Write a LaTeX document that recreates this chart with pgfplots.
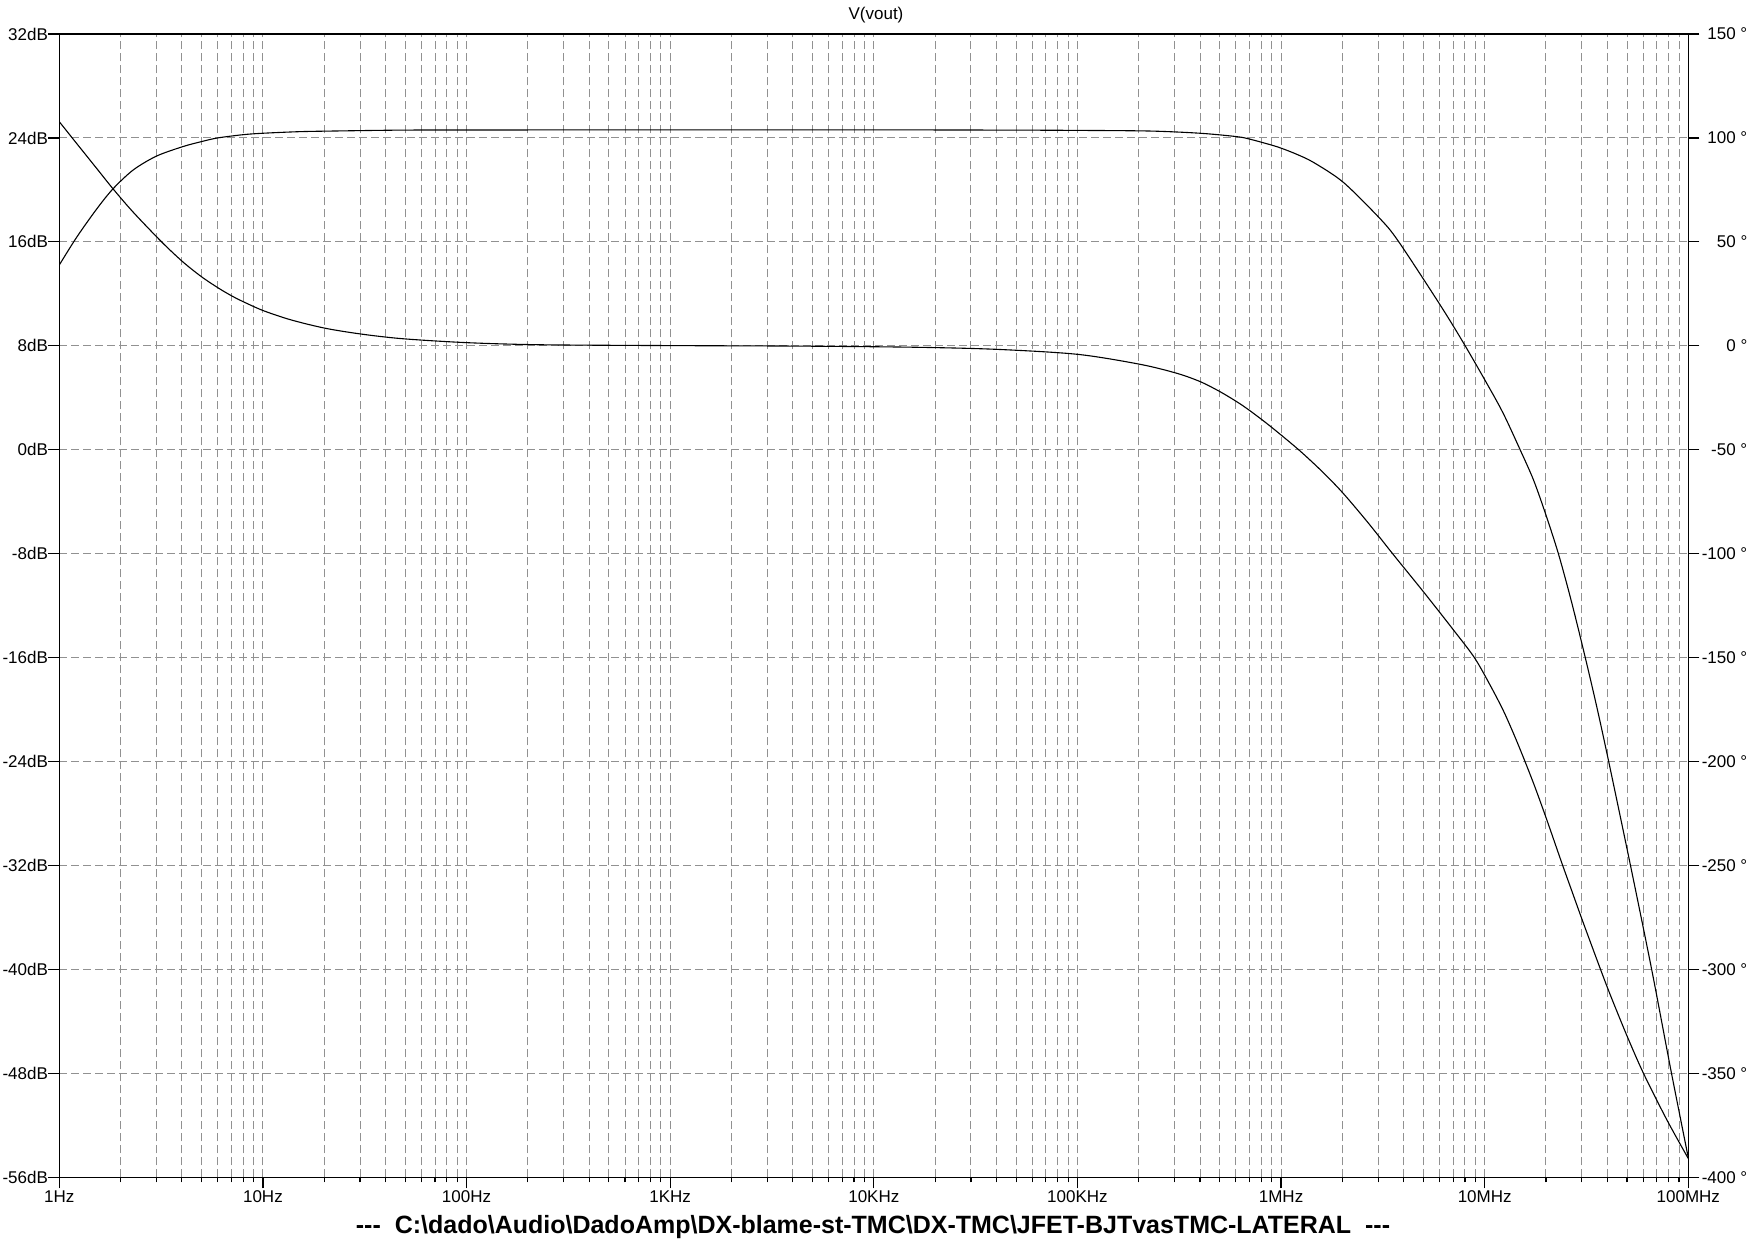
\documentclass[border=0pt]{standalone}
\usepackage{fontspec}
\setmainfont{Liberation Sans}
\usepackage{pgfplots}
\usepackage{pgfplotstable}
\pgfplotsset{compat=1.18}
\definecolor{gridgray}{RGB}{145,145,145}

% magnitude of V(vout), dB
\pgfplotstableread{
f mag
1 14.22
1.22 16.38
1.53 18.55
1.84 20.1
2.31 21.54
3.0 22.6
4.04 23.33
5 23.72
6 24.0
8 24.25
10 24.36
15 24.48
22 24.53
47 24.6
100 24.61
1000 24.62
10000 24.62
50000 24.6
100000 24.58
227000 24.53
400000 24.36
605000 24.10
705000 23.9
916000 23.41
1026000 23.15
1194000 22.74
1442000 22.12
2023000 20.58
3060000 17.79
3767000 16.05
6040000 11.15
8020000 8.0
11040000 4.2
12600000 2.5
14930000 0.0
17340000 -2.3
19820000 -4.85
23010000 -8.0
26790000 -11.8
31190000 -16.0
35650000 -19.9
40640000 -24.0
52000000 -32.0
66070000 -40.0
82220000 -47.8
100000000 -54.5
}\magtable

% phase of V(vout), degrees
\pgfplotstableread{
f ph
1 107.8
1.22 97.2
1.53 85.2
1.84 75.4
2.31 64.2
3.18 50.0
4.03 40.5
4.98 33.3
6.04 27.8
7.03 24.0
8.05 21.1
10.05 16.9
13.7 12.5
20.1 8.5
30.1 5.7
48.6 3.4
101 1.5
232 0.5
1000 0.1
4300 -0.15
16000 -0.7
40000 -1.7
100000 -4.1
203000 -8.9
307000 -13.2
400000 -17.2
500000 -22
606000 -26.9
705000 -31.3
883000 -38.6
1220000 -50
1600000 -60.7
2020000 -71.0
2700000 -85.6
3530000 -100
5000000 -118.3
7000000 -136.5
8900000 -150
10600000 -163.0
12360000 -175.6
14090000 -188.2
15780000 -200
17660000 -212.3
20180000 -228.0
23880000 -248.6
26730000 -262.0
30340000 -277.0
36900000 -299.5
41590000 -312.8
50000000 -332.0
60100000 -349.8
78300000 -372.2
100000000 -391.0
}\phtable

\pgfplotsset{
  commonaxis/.style={
    at={(29.65pt,31.35pt)}, anchor=south west,
    scale only axis, width=814.5pt, height=571.65pt,
    xmin=1, xmax=1e8,
    tick align=outside,
    major tick length=5.5pt, minor tick length=2.5pt,
    every tick/.style={black, line width=0.6pt},
    axis line style={black, line width=0.6pt},
    tick label style={font=\fontsize{8.5}{10}\selectfont},
  }
}

\begin{document}
\begin{tikzpicture}[x=1pt,y=1pt]
\useasboundingbox (0,0) rectangle (877,620);
\begin{axis}[xmode=log, commonaxis,
  ymin=-56, ymax=32,
  xtick={1,10,100,1000,10000,100000,1000000,10000000,100000000},
  xticklabels={1Hz,10Hz,100Hz,1KHz,10KHz,100KHz,1MHz,10MHz,100MHz},
  minor xtick={2,3,4,5,6,7,8,9,20,30,40,50,60,70,80,90,200,300,400,500,600,700,800,900,2000,3000,4000,5000,6000,7000,8000,9000,2e4,3e4,4e4,5e4,6e4,7e4,8e4,9e4,2e5,3e5,4e5,5e5,6e5,7e5,8e5,9e5,2e6,3e6,4e6,5e6,6e6,7e6,8e6,9e6,2e7,3e7,4e7,5e7,6e7,7e7,8e7,9e7},
  ytick={-56,-48,-40,-32,-24,-16,-8,0,8,16,24,32},
  yticklabels={-56dB,-48dB,-40dB,-32dB,-24dB,-16dB,-8dB,0dB,8dB,16dB,24dB,32dB},
  xtick pos=bottom, ytick pos=left,
  yticklabel style={inner sep=0pt},
  xticklabel style={inner sep=1pt},
  grid=both,
  major grid style={gridgray, line width=0.5pt, dash pattern=on 4pt off 2pt},
  minor grid style={gridgray, line width=0.5pt, dash pattern=on 4pt off 2pt},
]
\addplot[black, line width=0.55pt, smooth, tension=0.5] table[x=f, y=mag] {\magtable};
\end{axis}
\begin{axis}[xmode=log, commonaxis,
  ymin=-400, ymax=150,
  axis x line=none, axis y line*=right,
  ytick={-400,-350,-300,-250,-200,-150,-100,-50,0,50,100,150},
  yticklabels={-400 °,-350 °,-300 °,-250 °,-200 °,-150 °,-100 °,-50 °,0 °,50 °,100 °,150 °},
  ytick pos=right,
  yticklabel style={anchor=east, inner sep=0pt, xshift=24.2pt},
]
\addplot[black, line width=0.55pt, smooth, tension=0.5] table[x=f, y=ph] {\phtable};
\end{axis}
\node[font=\fontsize{8.5}{10}\selectfont] at (438,612.5) {V(vout)};
\node[font=\fontsize{12.5}{14}\selectfont\bfseries] at (436.5,6.5) {-{}-{}-\ \ C:\textbackslash dado\textbackslash Audio\textbackslash DadoAmp\textbackslash DX-blame-st-TMC\textbackslash DX-TMC\textbackslash JFET-BJTvasTMC-LATERAL\ \ -{}-{}-};
\end{tikzpicture}
\end{document}
